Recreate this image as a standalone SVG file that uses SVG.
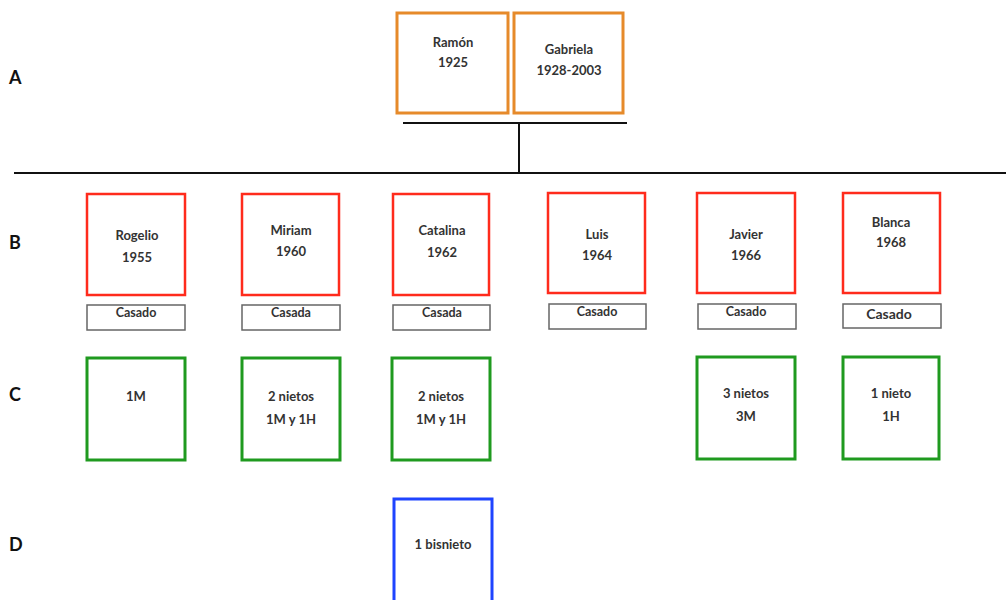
<svg xmlns="http://www.w3.org/2000/svg" width="1006" height="600" viewBox="0 0 1006 600">
<style>
text{font-family:Lato,"Open Sans","Liberation Sans",sans-serif;font-weight:bold;fill:#333;text-anchor:middle;font-size:13px}
.lab{font-size:18px;fill:#111;text-anchor:start}
.st{font-size:12.5px}
.o{fill:#fff;stroke:#E68A2A;stroke-width:3}
.r{fill:#fff;stroke:#FF2B1C;stroke-width:2.5}
.g{fill:#fff;stroke:#1F9A1F;stroke-width:3}
.b{fill:#fff;stroke:#1F44FF;stroke-width:3}
.s{fill:#fff;stroke:#666;stroke-width:1.5}
.ln{stroke:#111;stroke-width:2;fill:none}
</style>
<rect width="1006" height="600" fill="#fff"/>
<g id="labels">
<text class="lab" x="9" y="84">A</text>
<text class="lab" x="9" y="249">B</text>
<text class="lab" x="9" y="401">C</text>
<text class="lab" x="9" y="551">D</text>
</g>
<g id="connectors">
<line class="ln" x1="403" y1="123" x2="627" y2="123"/>
<line class="ln" x1="519" y1="123" x2="519" y2="173"/>
<line class="ln" x1="14" y1="173" x2="1006" y2="173"/>
</g>
<g id="ramon"><rect class="o" x="397" y="13" width="111" height="100"/><text x="453" y="46.5">Ramón</text><text x="453" y="66.5">1925</text></g>
<g id="gabriela"><rect class="o" x="514" y="13" width="109" height="100"/><text x="569" y="53.5">Gabriela</text><text x="569" y="74.5">1928-2003</text></g>

<g id="rogelio"><rect class="r" x="87" y="194" width="98" height="101"/><text x="137" y="239.5">Rogelio</text><text x="137" y="261.5">1955</text></g>
<g id="rogelio-estado"><rect class="s" x="87" y="305" width="98" height="25"/><text class="st" x="136" y="316.5">Casado</text></g>
<g id="miriam"><rect class="r" x="242" y="194" width="97" height="101"/><text x="291" y="234.5">Miriam</text><text x="291" y="255.5">1960</text></g>
<g id="miriam-estado"><rect class="s" x="242" y="305" width="98" height="25"/><text class="st" x="291" y="316.5">Casada</text></g>
<g id="catalina"><rect class="r" x="393" y="194" width="96" height="101"/><text x="442" y="234.5">Catalina</text><text x="442" y="256.5">1962</text></g>
<g id="catalina-estado"><rect class="s" x="393" y="305" width="97" height="25"/><text class="st" x="442" y="316.5">Casada</text></g>
<g id="luis"><rect class="r" x="548" y="193" width="97" height="100"/><text x="597" y="238.5">Luis</text><text x="597" y="259.5">1964</text></g>
<g id="luis-estado"><rect class="s" x="549" y="304" width="97" height="25"/><text class="st" x="597" y="315.5">Casado</text></g>
<g id="javier"><rect class="r" x="697" y="193" width="98" height="100"/><text x="746" y="238.5">Javier</text><text x="746" y="259.5">1966</text></g>
<g id="javier-estado"><rect class="s" x="698" y="304" width="98" height="25"/><text class="st" x="746" y="315.5">Casado</text></g>
<g id="blanca"><rect class="r" x="843" y="193" width="97" height="100"/><text x="891" y="226.5">Blanca</text><text x="891" y="246.5">1968</text></g>
<g id="blanca-estado"><rect class="s" x="843" y="304" width="98" height="24"/><text x="889" y="319" style="font-size:14px">Casado</text></g>

<g id="nietos-rogelio"><rect class="g" x="87" y="358" width="98" height="102"/><text x="136" y="400.5">1M</text></g>
<g id="nietos-miriam"><rect class="g" x="242" y="358" width="98" height="102"/><text x="291" y="400.5">2 nietos</text><text x="291" y="423.5">1M y 1H</text></g>
<g id="nietos-catalina"><rect class="g" x="392" y="358" width="98" height="102"/><text x="441" y="400.5">2 nietos</text><text x="441" y="423.5">1M y 1H</text></g>
<g id="nietos-javier"><rect class="g" x="697" y="357" width="98" height="102"/><text x="746" y="397.5">3 nietos</text><text x="746" y="420.5">3M</text></g>
<g id="nietos-blanca"><rect class="g" x="843" y="357" width="96" height="102"/><text x="891" y="397.5">1 nieto</text><text x="891" y="420.5">1H</text></g>

<g id="bisnieto"><rect class="b" x="394" y="499" width="98" height="110"/><text x="443" y="548.5">1 bisnieto</text></g>
</svg>
